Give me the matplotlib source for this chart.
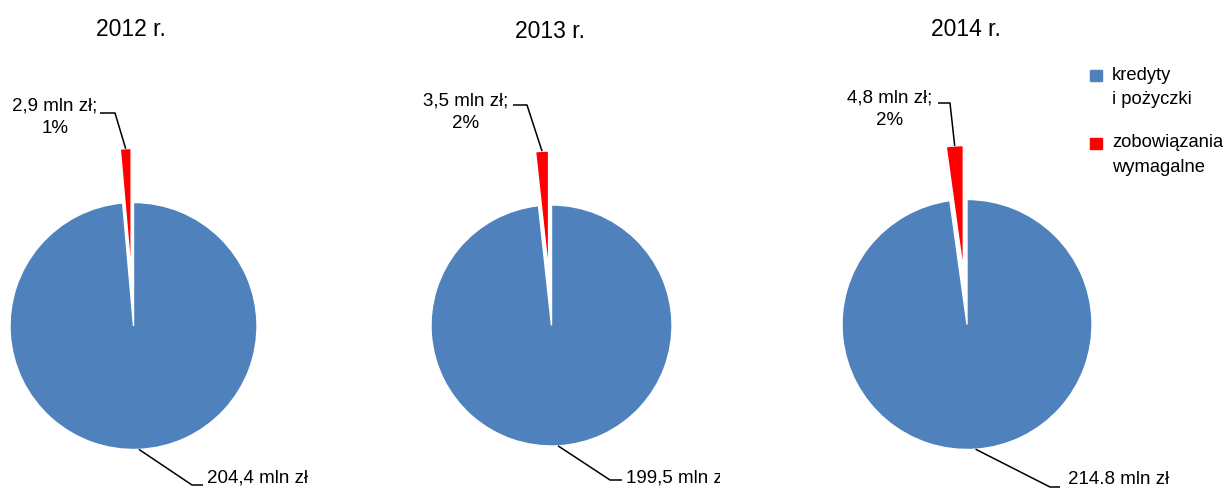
import numpy as np
import matplotlib.pyplot as plt
from matplotlib.patches import Rectangle
from matplotlib.transforms import Bbox, TransformedBbox

plt.rcParams['font.family'] = ['Liberation Sans', 'DejaVu Sans']

# zadłużenie w mln zł
years = ['2012 r.', '2013 r.', '2014 r.']
kredyty = [204.4, 199.5, 214.8]
zobowiazania = [2.9, 3.5, 4.8]
kredyty_labels = ['204,4 mln zł', '199,5 mln zł', '214.8 mln zł']
legend_labels = ['kredyty\ni pożyczki', 'zobowiązania\nwymagalne']
colors = ['#4F81BD', '#FF0000']

W, H = 1223, 488
fig = plt.figure(figsize=(W / 100, H / 100), dpi=100)
ax = fig.add_axes([0, 0, 1, 1])

def py(y):
    # pixel rows counted from the top
    return H - y

# pie geometry (pixels)
centers = [(133.5, 326), (551.5, 325.5), (967, 324.5)]
radii = [123.5, 120.5, 125]
explode_px = 54
title_pos = [(131, 30), (550, 31), (966, 30)]
red_text_pos = [(55, 117), (466, 112), (890, 109)]
red_elbow = [[(100, 113), (115, 113)], [(513, 105), (527, 105)], [(938, 103), (950, 103)]]
blue_elbow = [[(192, 485), (203, 485)], [(610, 480), (622, 480)], [(1050, 487), (1060, 487)]]
blue_text_pos = [(207, 478), (626, 478), (1068, 480)]

for i in range(3):
    cx, cy = centers[i]
    r = radii[i]
    vals = [kredyty[i], zobowiazania[i]]
    ax.pie(vals, colors=colors, startangle=90, counterclock=False,
           center=(cx, py(cy)), radius=r, explode=[0, explode_px],
           wedgeprops=dict(edgecolor='white', linewidth=1), frame=True)

    total = sum(vals)
    frac_red = zobowiazania[i] / total
    # mid angles of the two slices (clockwise from 12 o'clock)
    th_red = np.deg2rad(90 + 180 * frac_red)
    th_blue = np.deg2rad(90 - 180 * (1 - frac_red))

    # leader to the red slice
    ax_, ay_ = cx + (explode_px + r) * np.cos(th_red), py(cy) + (explode_px + r) * np.sin(th_red)
    (x0, y0), (x1, y1) = red_elbow[i]
    ax.plot([x0, x1, ax_], [py(y0), py(y1), ay_], color='black', lw=1.1,
            solid_capstyle='butt')
    pct = round(100 * frac_red)
    lbl = f'{zobowiazania[i]:.1f}'.replace('.', ',') + f' mln zł;\n{pct}%'
    tx, ty = red_text_pos[i]
    ax.text(tx, py(ty), lbl, ha='center', va='center', fontsize=13.5,
            linespacing=1.45)

    # leader to the blue slice
    bx, by = cx + r * np.cos(th_blue), py(cy) + r * np.sin(th_blue)
    (x0, y0), (x1, y1) = blue_elbow[i]
    ax.plot([bx, x0, x1], [by, py(y0), py(y1)], color='black', lw=1.1,
            solid_capstyle='butt')
    tx, ty = blue_text_pos[i]
    t = ax.text(tx, py(ty), kredyty_labels[i], ha='left', va='center', fontsize=13.5)
    if i == 1:
        t.set_clip_box(TransformedBbox(Bbox([[0, 0], [720, H]]), ax.transData))
        t.set_clip_on(True)

    tx, ty = title_pos[i]
    ax.text(tx, py(ty), years[i], ha='center', va='center', fontsize=16.5)

# legend
leg_sq = [(1090, 70), (1090, 138)]
leg_txt = [(1112, 87.5), (1112, 155)]
for c, lbl, (sx, sy), (lx, ly) in zip(colors, legend_labels, leg_sq, leg_txt):
    ax.add_patch(Rectangle((sx, py(sy + 11)), 11.5, 11.5, color=c))
    ax.text(lx, py(ly), lbl, ha='left', va='center', fontsize=13.2,
            linespacing=1.55)

ax.set_xlim(0, W)
ax.set_ylim(0, H)
ax.set_aspect('auto')
ax.axis('off')

fig.savefig('out.png', dpi=100)
